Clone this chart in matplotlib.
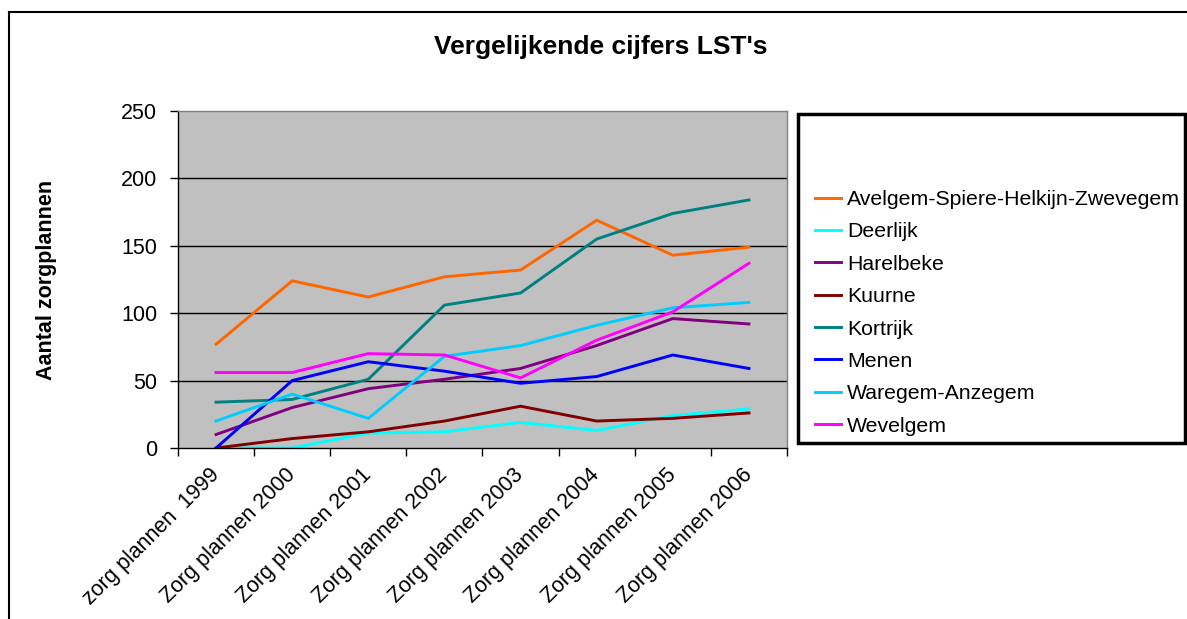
import numpy as np
import matplotlib
matplotlib.use('Agg')
import matplotlib.pyplot as plt
from matplotlib.lines import Line2D
from matplotlib.patches import Rectangle

plt.rcParams['font.family'] = ['Liberation Sans', 'DejaVu Sans']

## data
categories = ['zorg plannen  1999', 'Zorg plannen 2000', 'Zorg plannen 2001',
              'Zorg plannen 2002', 'Zorg plannen 2003', 'Zorg plannen 2004',
              'Zorg plannen 2005', 'Zorg plannen 2006']

avelgem  = [77, 124, 112, 127, 132, 169, 143, 149]
deerlijk = [0, 0, 11, 12, 19, 13, 24, 29]
harelbeke = [10, 30, 44, 51, 59, 76, 96, 92]
kuurne   = [0, 7, 12, 20, 31, 20, 22, 26]
kortrijk = [34, 36, 51, 106, 115, 155, 174, 184]
menen    = [0, 50, 64, 57, 48, 53, 69, 59]
waregem  = [20, 40, 22, 68, 76, 91, 104, 108]
wevelgem = [56, 56, 70, 69, 52, 80, 101, 137]

names = ['Avelgem-Spiere-Helkijn-Zwevegem', 'Deerlijk', 'Harelbeke', 'Kuurne',
         'Kortrijk', 'Menen', 'Waregem-Anzegem', 'Wevelgem']
series = [avelgem, deerlijk, harelbeke, kuurne, kortrijk, menen, waregem, wevelgem]
colors = ['#FF6600', '#00FFFF', '#800080', '#800000',
          '#008080', '#0000FF', '#00CCFF', '#FF00FF']

fs = 15.5
W, H = 1187, 619
fig = plt.figure(figsize=(W / 100, H / 100), dpi=100)

# outer chart frame (left and top only visible)
fig.add_artist(plt.Line2D([9.5 / W, 9.5 / W], [0, 1 - 12 / H], color='black', lw=1.5,
                          transform=fig.transFigure))
fig.add_artist(plt.Line2D([9.5 / W, 1], [1 - 12 / H, 1 - 12 / H], color='black', lw=1.5,
                          transform=fig.transFigure))

# plot area
x0, x1, y0, y1 = 178, 787, 111, 448
ax = fig.add_axes([x0 / W, 1 - y1 / H, (x1 - x0) / W, (y1 - y0) / H])
ax.set_facecolor('#C0C0C0')

x = np.arange(len(categories))
for vals, c in zip(series, colors):
    ax.plot(x, vals, color=c, lw=2.1, solid_joinstyle='miter')

ax.set_xlim(-0.5, len(categories) - 0.5)
ax.set_ylim(0, 250)
ax.set_yticks(np.arange(0, 251, 50))
for g in [50, 100, 150, 200]:
    ax.axhline(g, color='black', lw=1, zorder=0.5)

ax.set_xticks(x)
ax.set_xticklabels(categories, rotation=45, ha='right', va='center',
                   rotation_mode='anchor', fontsize=fs)
ax.set_xticks(np.arange(-0.5, len(categories)), minor=True)
ax.tick_params(axis='x', which='major', length=0, pad=17)
ax.tick_params(axis='x', which='minor', length=6, width=1, direction='out')
ax.tick_params(axis='y', length=6, width=1, direction='out', labelsize=fs, pad=9)

for s in ['top', 'right']:
    ax.spines[s].set_color('#808080')
    ax.spines[s].set_linewidth(1)
for s in ['left', 'bottom']:
    ax.spines[s].set_color('black')
    ax.spines[s].set_linewidth(1)

ax.set_ylabel('Aantal zorgplannen', fontsize=fs, fontweight='bold', labelpad=46)

fig.text(601 / W, 1 - 47 / H, "Vergelijkende cijfers LST's", ha='center', va='center',
         fontsize=19, fontweight='bold')

# legend box
fig.add_artist(Rectangle((798.5 / W, 1 - 443 / H), (1185 - 798.5) / W, (443 - 114) / H,
                         transform=fig.transFigure, fill=False, ec='black', lw=2.5))
handles = [Line2D([0], [0], color=c, lw=2.1) for c in colors]
fig.legend(handles, names, loc='upper left', bbox_to_anchor=(815 / W, 1 - 190 / H),
           frameon=False, fontsize=15.3, handlelength=1.2, handletextpad=0.3,
           labelspacing=0.63, borderaxespad=0, borderpad=0)

fig.savefig('out.png', dpi=100)
